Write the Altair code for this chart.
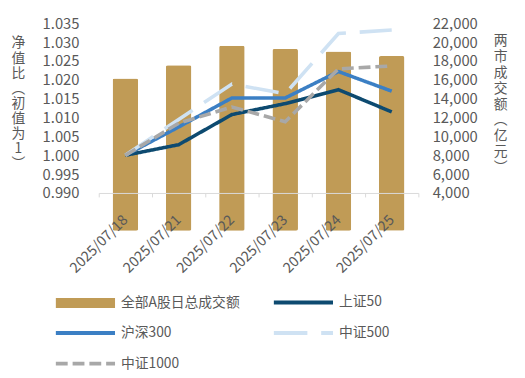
import altair as alt
import pandas as pd

# ---- data ----
dates = ["2025/07/18", "2025/07/21", "2025/07/22", "2025/07/23", "2025/07/24", "2025/07/25"]
turnover = [16140, 17540, 19630, 19280, 19000, 18520]          # 亿元
sz50 = [1.0000, 1.0028, 1.0108, 1.0137, 1.0174, 1.0115]
hs300 = [1.0000, 1.0075, 1.0152, 1.0152, 1.0222, 1.0170]
zz500 = [1.0000, 1.0095, 1.0189, 1.0163, 1.0323, 1.0332]
zz1000 = [1.0000, 1.0085, 1.0128, 1.0089, 1.0229, 1.0237]

names = ["全部A股日总成交额", "上证50", "沪深300", "中证500", "中证1000"]
colors = ["#c09b56", "#0d4a70", "#3b7fc4", "#cfe2f3", "#a8a8a8"]
dashes = [[1, 0], [1, 0], [1, 0], [34, 14], [12, 5]]
# legend is filled column by column: 3 rows x 2 columns as in the reference
legend_order = [0, 2, 4, 1, 3]

left_ticks = [0.990, 0.995, 1.000, 1.005, 1.010, 1.015, 1.020, 1.025, 1.030, 1.035]
right_ticks = [4000, 6000, 8000, 10000, 12000, 14000, 16000, 18000, 20000, 22000]

left_title = ["净", "值", "比", "︵", "初", "值", "为", "1", "︶"]
right_title = ["两", "市", "成", "交", "额", "︵", "亿", "元", "︶"]

FONT = "Noto Sans CJK SC"
GRAY = "#595959"

bar_df = pd.DataFrame({"date": dates, "turnover": turnover})
series_vals = [sz50, hs300, zz500, zz1000]
rows = []
for nm, vals in zip(names[1:], series_vals):
    for d, v in zip(dates, vals):
        rows.append({"date": d, "value": v, "series": nm})
line_df = pd.DataFrame(rows)

dom = [names[i] for i in legend_order]
rng_colors = [colors[i] for i in legend_order]
rng_dashes = [dashes[i] for i in legend_order]


def ternary(mapping, default):
    expr = default
    for k, v in reversed(mapping):
        expr = f"datum.value === '{k}' ? {v} : ({expr})"
    return expr


bar_path = "'M-7.5,-1.25H7.5V1.25H-7.5Z'"
line_path = "'M-7.5,0H7.5'"
shape_expr = ternary([(names[0], bar_path)], line_path)
fill_expr = ternary([(names[0], f"'{colors[0]}'")], "'transparent'")
dash_expr = ternary([(names[i], str(dashes[i])) for i in range(len(names))], "[]")
sw_expr = ternary([(names[0], "0")], "4")

legend = alt.Legend(
    title=None,
    orient="none",
    legendX=-44,
    legendY=276,
    columns=2,
    columnPadding=25,
    rowPadding=15,
    symbolSize=64,
    symbolOffset=23.5,
    labelOffset=29,
    symbolType={"expr": shape_expr},
    symbolFillColor={"expr": fill_expr},
    symbolDash={"expr": dash_expr},
    symbolStrokeWidth={"expr": sw_expr},
    labelFont=FONT,
    labelFontSize=14,
    labelColor=GRAY,
    labelLimit=300,
)

x = alt.X(
    "date:N",
    sort=dates,
    scale=alt.Scale(paddingInner=0, paddingOuter=0),
    axis=alt.Axis(
        title=None,
        labelAngle=-45,
        labelAlign="right",
        labelBaseline="middle",
        labelLimit=300,
        tickBand="extent",
        domainColor="#d9d9d9",
        tickColor="#d9d9d9",
        tickSize=4,
        labelFont=FONT,
        labelFontSize=14.5,
        labelColor=GRAY,
        labelPadding=21,
        zindex=1,
    ),
)

bars = alt.Chart(bar_df).mark_bar(width={"band": 0.48}, cornerRadius=2, color=colors[0]).encode(
    x=x,
    y=alt.Y(
        "turnover:Q",
        scale=alt.Scale(domain=[4000, 22000], nice=False),
        axis=alt.Axis(
            orient="right",
            values=right_ticks,
            format=",.0f",
            grid=False,
            domain=False,
            ticks=False,
            tickSize=0,
            labelPadding=14,
            labelFont=FONT,
            labelFontSize=15,
            labelColor=GRAY,
            title=right_title,
            titleAngle=0,
            titleX=83,
            titleY=11,
            titleAlign="center",
            titleBaseline="top",
            titleLineHeight=16,
            titleFont=FONT,
            titleFontSize=14,
            titleFontWeight="normal",
            titleColor=GRAY,
        ),
    ),
)

lines = alt.Chart(line_df).mark_line(strokeWidth=3.6).encode(
    x=x,
    y=alt.Y(
        "value:Q",
        scale=alt.Scale(domain=[0.99, 1.035], nice=False, zero=False),
        axis=alt.Axis(
            orient="left",
            values=left_ticks,
            format=".3f",
            grid=False,
            domain=False,
            ticks=False,
            tickSize=0,
            labelPadding=20,
            labelFont=FONT,
            labelFontSize=15,
            labelColor=GRAY,
            title=left_title,
            titleAngle=0,
            titleX=-82,
            titleY=13,
            titleAlign="center",
            titleBaseline="top",
            titleLineHeight=15.3,
            titleFont=FONT,
            titleFontSize=14,
            titleFontWeight="normal",
            titleColor=GRAY,
        ),
    ),
    color=alt.Color("series:N", scale=alt.Scale(domain=dom, range=rng_colors), legend=legend),
    strokeDash=alt.StrokeDash(
        "series:N",
        scale=alt.Scale(domain=dom, range=rng_dashes),
        legend=None,
    ),
)

chart = (
    alt.layer(bars, lines)
    .resolve_scale(y="independent")
    .properties(
        width=324,
        height=172,
        autosize=alt.AutoSizeParams(type="none"),
        padding={"left": 92, "top": 13, "right": 100, "bottom": 180},
        background="white",
    )
    .configure_view(stroke=None)
)

chart.save("out.html", embed_options={"renderer": "svg", "actions": False})
